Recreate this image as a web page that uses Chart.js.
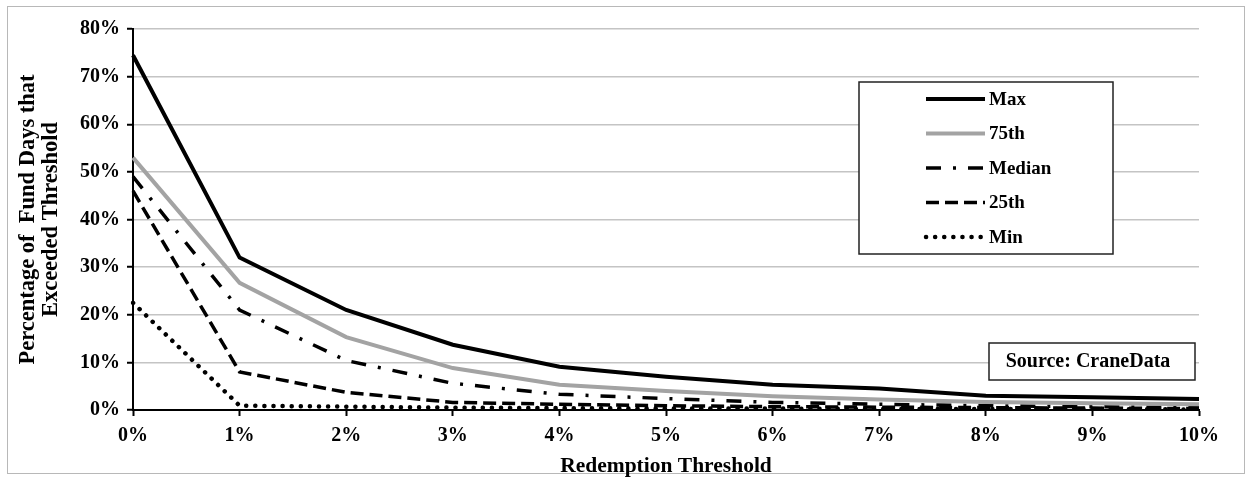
<!DOCTYPE html>
<html>
<head>
<meta charset="utf-8">
<script src="https://cdn.jsdelivr.net/npm/chart.js@4/dist/chart.umd.min.js"></script>
<style>
  html, body { margin: 0; padding: 0; background: #fff; }
  #wrap { width: 1251px; height: 483px; position: relative; }
</style>
</head>
<body>
<div id="wrap"><canvas id="chart_canvas" width="1251" height="483"></canvas></div>
<script>
const thresholds = ['0%', '1%', '2%', '3%', '4%', '5%', '6%', '7%', '8%', '9%', '10%'];

const maxVals    = [74.5, 32.0, 21.0, 13.7, 9.1, 7.0, 5.3, 4.5, 3.0, 2.7, 2.3];
const p75Vals    = [53.0, 26.7, 15.3, 8.8, 5.3, 4.0, 2.9, 2.2, 1.7, 1.4, 1.2];
const medianVals = [49.0, 21.0, 10.4, 5.6, 3.3, 2.4, 1.6, 1.2, 0.9, 0.7, 0.5];
const p25Vals    = [46.0, 8.0, 3.7, 1.6, 1.2, 0.9, 0.7, 0.6, 0.5, 0.4, 0.3];
const minVals    = [22.5, 0.9, 0.7, 0.5, 0.4, 0.3, 0.3, 0.2, 0.2, 0.2, 0.1];

const serif = '"Liberation Serif", "Times New Roman", serif';

// Helper for the series look
const series = (label, data, color, width, dash, cap) => ({
  label,
  data,
  borderColor: color,
  backgroundColor: color,
  borderWidth: width,
  borderDash: dash,
  borderCapStyle: cap,
  pointRadius: 0,
  fill: false,
  tension: 0
});

const datasets = [
  series('Max', maxVals, '#000', 4, [], 'butt'),
  series('75th', p75Vals, '#a3a3a3', 4, [], 'butt'),
  series('Median', medianVals, '#000', 3.5, [15, 12, 3, 12], 'butt'),
  series('25th', p25Vals, '#000', 3.5, [13, 6], 'butt'),
  series('Min', minVals, '#000', 4.5, [0.1, 9], 'round')
];

// frame, legend box and source note
const decorPlugin = {
  id: 'decor',
  beforeDraw(chart) {
    const c = chart.ctx;
    c.save();
    c.fillStyle = '#fff';
    c.fillRect(0, 0, chart.width, chart.height);
    c.strokeStyle = '#b8b8b8';
    c.lineWidth = 1;
    c.strokeRect(7.5, 6.5, 1237, 467);
    c.restore();
  },
  afterDraw(chart) {
    const c = chart.ctx;
    c.save();
    // legend box
    c.fillStyle = '#fff';
    c.fillRect(859, 82, 254, 172);
    c.strokeStyle = '#222';
    c.lineWidth = 1.5;
    c.strokeRect(859, 82, 254, 172);
    c.font = 'bold 19px ' + serif;
    c.textBaseline = 'middle';
    c.textAlign = 'left';
    chart.data.datasets.forEach((ds, i) => {
      const y = 99 + i * 34.5;
      c.beginPath();
      c.strokeStyle = ds.borderColor;
      c.lineWidth = ds.borderWidth;
      c.setLineDash(ds.borderDash);
      c.lineCap = ds.borderCapStyle;
      c.moveTo(926, y);
      c.lineTo(985, y);
      c.stroke();
      c.setLineDash([]);
      c.fillStyle = '#000';
      c.fillText(ds.label, 989, y + 1);
    });
    // source box
    c.fillStyle = '#fff';
    c.fillRect(989, 343, 206, 37);
    c.strokeStyle = '#222';
    c.lineWidth = 1.5;
    c.lineCap = 'butt';
    c.strokeRect(989, 343, 206, 37);
    c.fillStyle = '#000';
    c.textAlign = 'center';
    c.font = 'bold 20px ' + serif;
    c.fillText('Source: CraneData', 1088, 362);
    c.restore();
  }
};

const ctx = document.getElementById('chart_canvas').getContext('2d');
new Chart(ctx, {
  type: 'line',
  data: { labels: thresholds, datasets },
  options: {
    responsive: false,
    animation: false,
    layout: { padding: { left: 0, right: 52, top: 29, bottom: 0 } },
    plugins: { legend: { display: false }, tooltip: { enabled: false } },
    scales: {
      x: {
        offset: false,
        grid: { drawOnChartArea: false, drawTicks: true, tickLength: 6, tickColor: '#000', tickWidth: 2 },
        border: { color: '#000', width: 2 },
        ticks: { color: '#000', font: { family: serif, size: 20, weight: 'bold' }, padding: 8, maxRotation: 0 },
        title: { display: true, text: 'Redemption Threshold', color: '#000', font: { family: serif, size: 21.5, weight: 'bold' }, padding: { top: 0 } },
        afterFit: s => { s.height = 73; }
      },
      y: {
        min: 0,
        max: 80,
        grid: { color: '#c4c4c4', lineWidth: 1.5, tickLength: 6, tickColor: '#000', tickWidth: 2 },
        border: { color: '#000', width: 2 },
        ticks: {
          stepSize: 10,
          color: '#000',
          padding: 7,
          font: { family: serif, size: 20, weight: 'bold' },
          callback: v => v + '%'
        },
        title: {
          display: true,
          text: ['Percentage of  Fund Days that', 'Exceeded Threshold'],
          color: '#000',
          font: { family: serif, size: 22.5, weight: 'bold', lineHeight: 1.0 },
          padding: { top: 17, bottom: 0 }
        },
        afterFit: s => { s.width = 133; }
      }
    }
  },
  plugins: [decorPlugin]
});
</script>
</body>
</html>
